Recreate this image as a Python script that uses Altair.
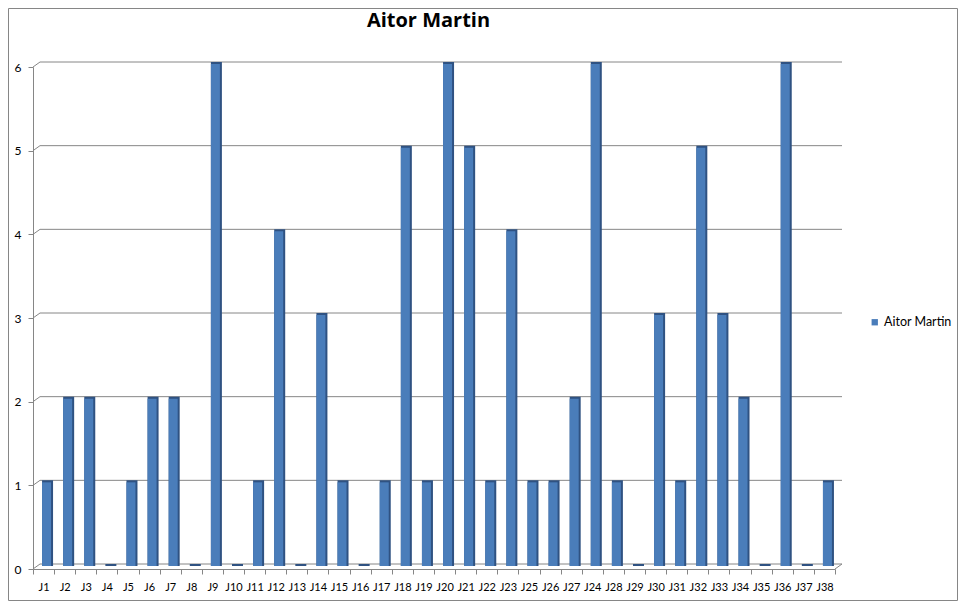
import altair as alt
import pandas as pd

categories = ["J1", "J2", "J3", "J4", "J5", "J6", "J7", "J8", "J9", "J10",
              "J11", "J12", "J13", "J14", "J15", "J16", "J17", "J18", "J19", "J20",
              "J21", "J22", "J23", "J25", "J26", "J27", "J24", "J28", "J29", "J30",
              "J31", "J32", "J33", "J34", "J35", "J36", "J37", "J38"]
goals = [1, 2, 2, 0, 1, 2, 2, 0, 6, 0,
         1, 4, 0, 3, 1, 0, 1, 5, 1, 6,
         5, 1, 4, 1, 1, 2, 6, 1, 0, 3,
         1, 5, 3, 2, 0, 6, 0, 1]
series_name = "Aitor Martin"
chart_title = "Aitor Martin"
y_ticks = [0, 1, 2, 3, 4, 5, 6]

W, H = 802, 502
GRAY = "#868686"
FRONT = "#4a7dba"
SIDE = "#2f5282"
FONT = "Lato"

df = pd.DataFrame({"cat": categories, "goals": goals, "series": series_name})
grid_df = pd.DataFrame({"v": y_ticks})

yscale = alt.Scale(domain=[0, 6], nice=False, zero=True)
xscale = alt.Scale(paddingInner=0, paddingOuter=0)

x_axis = alt.Axis(tickBand="extent", labelAngle=0, domainColor=GRAY,
                  tickColor=GRAY, tickSize=5, labelPadding=7,
                  labelFont=FONT, labelFontSize=11, labelColor="black",
                  grid=False, title=None)
y_axis = alt.Axis(values=y_ticks, domainColor=GRAY, tickColor=GRAY,
                  tickSize=5, labelPadding=7, labelFont=FONT,
                  labelFontSize=12, labelColor="black", grid=False, title=None)

X = alt.X("cat:N", sort=categories, scale=xscale, axis=x_axis, title=None)

base = alt.Chart(df)

side = base.mark_bar(width=11, xOffset=4, yOffset=-5, y2Offset=-3, color=SIDE).encode(
    x=X,
    y=alt.Y("goals:Q", scale=yscale, axis=y_axis, title=None),
    y2=alt.datum(0),
)

front = base.mark_bar(width=9, xOffset=3, yOffset=-3, y2Offset=-3).encode(
    x=X,
    y=alt.Y("goals:Q", scale=yscale, axis=y_axis, title=None),
    y2=alt.datum(0),
    color=alt.Color("series:N", scale=alt.Scale(range=[FRONT]), title=None,
                    legend=alt.Legend(orient="none", legendX=835.5, legendY=249,
                                      symbolType="square", symbolSize=40,
                                      symbolStrokeWidth=0, labelFont=FONT,
                                      labelFontSize=12.5, labelColor="black",
                                      labelOffset=3, padding=0)),
)

grid = alt.Chart(grid_df).mark_rule(color=GRAY, yOffset=-5, strokeWidth=1).encode(
    y=alt.Y("v:Q", scale=yscale, axis=y_axis, title=None),
    x=alt.value(7), x2=alt.value(W + 7),
)

diag = alt.Chart(grid_df).mark_rule(color=GRAY, y2Offset=-5, strokeWidth=1).encode(
    y=alt.Y("v:Q", scale=yscale, axis=y_axis, title=None),
    y2=alt.Y2("v:Q"),
    x=alt.value(0), x2=alt.value(7),
)

floor_df = pd.DataFrame({"v": [0]})
floor_diag = alt.Chart(floor_df).mark_rule(color=GRAY, y2Offset=-5, strokeWidth=1).encode(
    y=alt.Y("v:Q", scale=yscale, axis=y_axis, title=None),
    y2=alt.Y2("v:Q"),
    x=alt.value(W), x2=alt.value(W + 7),
)

frame_df = pd.DataFrame({"k": [0]})
frame = alt.Chart(frame_df).mark_rect(fill="transparent", stroke=GRAY, strokeWidth=1).encode(
    x=alt.value(-24.5), x2=alt.value(924.5),
    y=alt.value(-58.5), y2=alt.value(533.5),
)

title_df = pd.DataFrame({"t": [chart_title]})
title = alt.Chart(title_df).mark_text(font="Open Sans", fontSize=20, fontWeight="bold",
                                      align="center", baseline="alphabetic",
                                      color="black").encode(
    x=alt.value(395.5), y=alt.value(-40), text="t:N",
)

chart = alt.layer(frame, grid, diag, floor_diag, side, front, title).properties(
    width=W, height=H,
    background="white",
    autosize=alt.AutoSizeParams(type="none"),
    padding={"left": 25, "top": 59, "right": 123, "bottom": 32},
).configure_view(strokeWidth=0, stroke="transparent").configure_axis(grid=False)

chart.save("out.html", embed_options={"renderer": "svg", "actions": False})
